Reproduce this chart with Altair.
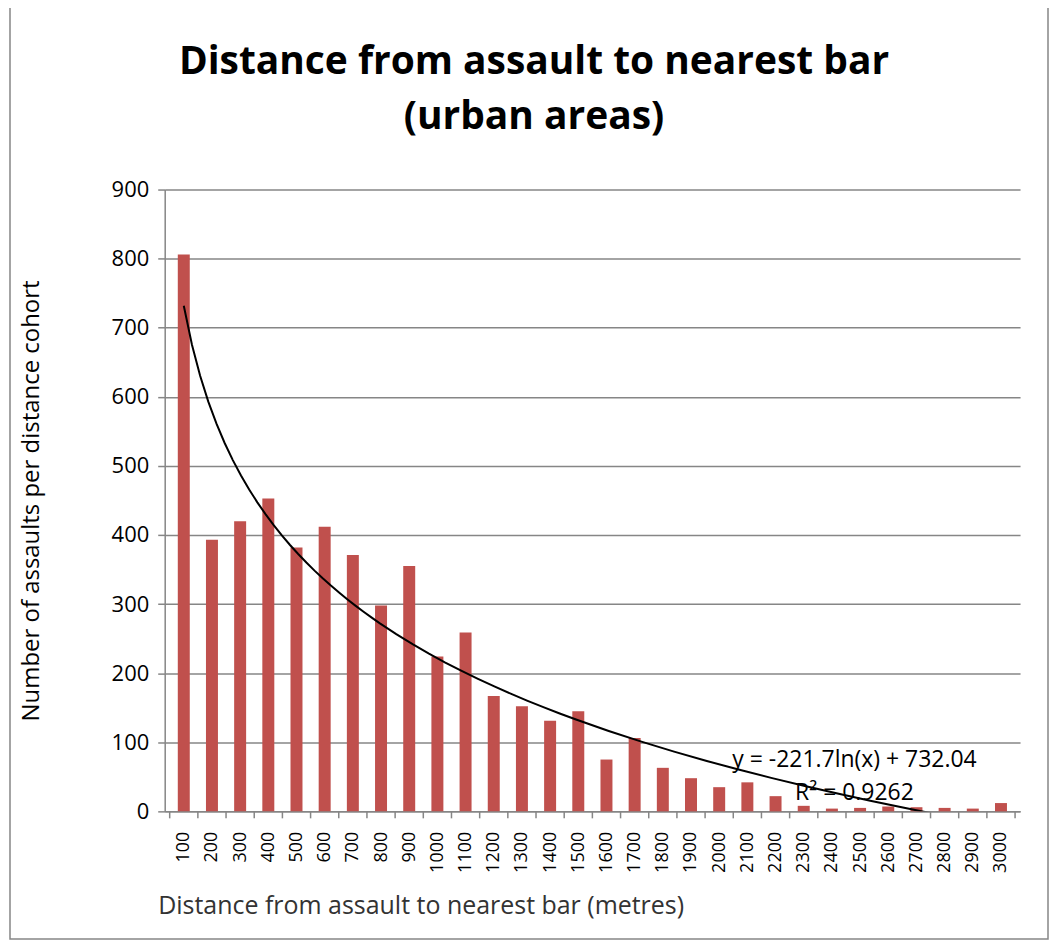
import altair as alt
import pandas as pd

distances = [100, 200, 300, 400, 500, 600, 700, 800, 900, 1000,
             1100, 1200, 1300, 1400, 1500, 1600, 1700, 1800, 1900, 2000,
             2100, 2200, 2300, 2400, 2500, 2600, 2700, 2800, 2900, 3000]
assaults = [806, 393, 420, 453, 382, 412, 371, 298, 355, 224,
            259, 167, 152, 131, 145, 75, 106, 63, 48, 35,
            42, 22, 8, 4, 5, 7, 6, 5, 4, 12]
eq_lines = ["y = -221.7ln(x) + 732.04", "R² = 0.9262"]
eq_x = [24.8, 24.8]
eq_y = [75, 27]
title_lines = ["Distance from assault to nearest bar", "(urban areas)"]

idx = list(range(1, len(distances) + 1))
df = pd.DataFrame({"idx": idx, "dist": distances, "n": assaults})
eq = pd.DataFrame({"t": eq_lines, "x": eq_x, "y": eq_y})
tl = pd.DataFrame({"t": title_lines, "line": [0, 1]})

W, H = 857, 623
FONT = "Open Sans"
GRAY = "#868686"

xscale = alt.Scale(domain=[0.5, 30.5], nice=False, zero=False)
yscale = alt.Scale(domain=[0, 900], nice=False)

xaxis = alt.Axis(values=idx, labelExpr="datum.value * 100",
                 labelAngle=-90, labelFontSize=18, labelColor="#000",
                 labelPadding=20, labelOverlap=False, labelFlush=False,
                 labelFont=FONT,
                 grid=False, ticks=False,
                 domainColor=GRAY, domainWidth=1.5,
                 title="Distance from assault to nearest bar (metres)",
                 titleFontSize=25, titleFontWeight="normal",
                 titleColor="#333", titleAnchor="start",
                 titleX=-7, titleY=82, titleFont=FONT)
yaxis = alt.Axis(values=list(range(0, 901, 100)), labelFontSize=22,
                 labelColor="#000", labelPadding=9, labelFont=FONT,
                 gridColor=GRAY, gridWidth=1.5,
                 tickColor=GRAY, tickSize=7, tickWidth=1.5,
                 domainColor=GRAY, domainWidth=1.5,
                 title="Number of assaults per distance cohort",
                 titleFontSize=24, titleFontWeight="normal",
                 titleColor="#000", titlePadding=68, titleFont=FONT)

bars = alt.Chart(df).mark_bar(color="#C0504D", size=12).encode(
    x=alt.X("idx:Q", scale=xscale, axis=xaxis),
    y=alt.Y("n:Q", scale=yscale, axis=yaxis),
)

xticks = alt.Chart(df).transform_calculate(b="datum.idx - 0.5").mark_rule(
    color=GRAY, strokeWidth=1.5
).encode(
    x=alt.X("b:Q", scale=xscale, axis=xaxis),
    y=alt.value(H), y2=alt.value(H + 7),
)
lastTick = alt.Chart(df.tail(1)).transform_calculate(b="datum.idx + 0.5").mark_rule(
    color=GRAY, strokeWidth=1.5
).encode(
    x=alt.X("b:Q", scale=xscale, axis=xaxis),
    y=alt.value(H), y2=alt.value(H + 7),
)

trend = alt.Chart(df).transform_regression(
    "idx", "n", method="log", extent=[1, 30]
).mark_line(color="#000", strokeWidth=2, clip=True).encode(
    x=alt.X("idx:Q", scale=xscale, axis=xaxis),
    y=alt.Y("n:Q", scale=yscale, axis=yaxis),
)

eqtext = alt.Chart(eq).mark_text(fontSize=23, font=FONT, color="#000").encode(
    x=alt.X("x:Q", scale=xscale, axis=xaxis),
    y=alt.Y("y:Q", scale=yscale, axis=yaxis),
    text="t:N",
)

title = alt.Chart(tl).transform_calculate(
    py="datum.line * 55 - 116"
).mark_text(fontSize=39, font=FONT, fontWeight="bold", color="#000",
            align="center", baseline="alphabetic").encode(
    x=alt.value(370),
    y=alt.Y("py:Q", scale=None),
    text="t:N",
)

border = alt.Chart(eq.head(1)).mark_rect(fill=None, stroke=GRAY, strokeWidth=1.5).encode(
    x=alt.value(-155), x2=alt.value(W + 28), y=alt.value(-184), y2=alt.value(H + 128)
)

chart = alt.layer(border, bars, xticks, lastTick, trend, eqtext, title).properties(
    width=W, height=H,
    autosize=alt.AutoSizeParams(type="none"),
    padding={"left": 157, "top": 181, "right": 30, "bottom": 132},
).configure_view(stroke=None)

chart.save("out.html", embed_options={"renderer": "svg", "actions": False})
